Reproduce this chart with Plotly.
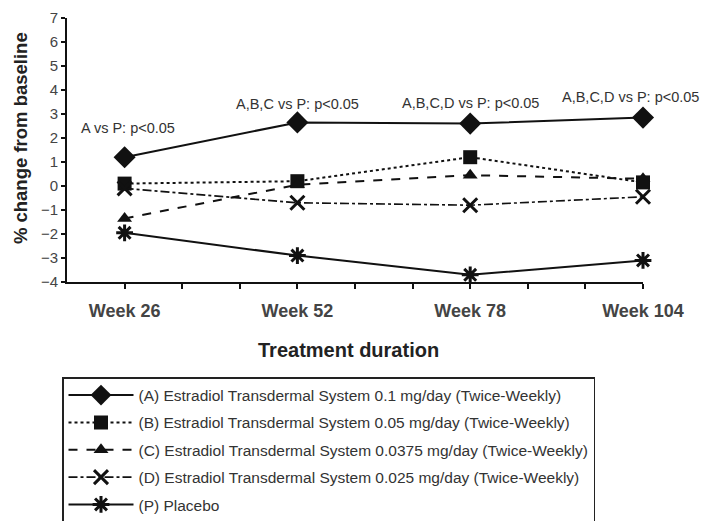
import plotly.graph_objects as go

weeks = [26, 52, 78, 104]
week_labels = ["Week 26", "Week 52", "Week 78", "Week 104"]
series_names = [
    "(A) Estradiol Transdermal System 0.1 mg/day (Twice-Weekly)",
    "(B) Estradiol Transdermal System 0.05 mg/day (Twice-Weekly)",
    "(C) Estradiol Transdermal System 0.0375 mg/day (Twice-Weekly)",
    "(D) Estradiol Transdermal System 0.025 mg/day (Twice-Weekly)",
    "(P) Placebo",
]
vals_A = [1.2, 2.65, 2.6, 2.85]
vals_B = [0.1, 0.2, 1.2, 0.15]
vals_C = [-1.35, 0.05, 0.45, 0.3]
vals_D = [-0.1, -0.7, -0.8, -0.45]
vals_P = [-1.95, -2.9, -3.7, -3.1]
sig_labels = ["A vs P: p<0.05", "A,B,C vs P: p<0.05", "A,B,C,D vs P: p<0.05", "A,B,C,D vs P: p<0.05"]
sig_y = [2.4, 3.4, 3.45, 3.7]
sig_shift = [3, 0, 0, -13]

series_vals = [vals_A, vals_B, vals_C, vals_D, vals_P]
styles = [
    dict(dash="solid", symbol="diamond", size=17, lw=2),
    dict(dash="dot", symbol="square", size=14, lw=2),
    dict(dash="dash", symbol="triangle-up", size=13, lw=2),
    dict(dash="dashdot", symbol="x-thin-open", size=14, lw=1.6),
    dict(dash="solid", symbol="asterisk-open", size=14, lw=2),
]

ARIAL = "Liberation Sans, Arial, sans-serif"
ink = "#111111"

fig = go.Figure()
for i, (name, v, st) in enumerate(zip(series_names, series_vals, styles)):
    marker = dict(symbol=st["symbol"], size=st["size"], color=ink,
                  line=dict(color=ink, width=3 if "open" in st["symbol"] else 0))
    fig.add_trace(go.Scatter(
        x=weeks, y=v, name=name, mode="lines+markers",
        line=dict(color=ink, width=st["lw"], dash=st["dash"]),
        marker=marker, cliponaxis=False, legendgroup=f"g{i}",
    ))

step = 26 / 3
tick_pos = [26 - step + step * k for k in range(1, 10)] + [104]
tick_pos = sorted(set(round(t, 4) for t in tick_pos))
tick_txt = []
for t in tick_pos:
    lab = ""
    for w, l in zip(weeks, week_labels):
        if abs(t - w) < 0.01:
            lab = "<b>" + l + "</b>"
    tick_txt.append(lab)

for xw, txt, yv, sh in zip(weeks, sig_labels, sig_y, sig_shift):
    fig.add_annotation(x=xw, y=yv, text=txt, showarrow=False, xref="x", yref="y", xshift=sh,
                       font=dict(family=ARIAL, size=14.5, color="#333333"))

fig.add_annotation(x=0.488, y=-0.2576, xref="paper", yref="paper", text="<b>Treatment duration</b>",
                   showarrow=False, font=dict(family=ARIAL, size=20, color="#222222"),
                   xanchor="center", yanchor="middle")
fig.add_annotation(x=-0.0816, y=0.545, xref="paper", yref="paper", text="<b>% change from baseline</b>",
                   showarrow=False, textangle=-90, font=dict(family=ARIAL, size=18.5, color="#222222"),
                   xanchor="center", yanchor="middle")

fig.update_layout(
    width=701, height=521,
    margin=dict(l=67, r=58, t=18, b=239),
    plot_bgcolor="white", paper_bgcolor="white",
    showlegend=True,
    legend=dict(x=(62 - 67) / 576, y=1 - 377 / 521, xref="paper", yref="container",
                xanchor="left", yanchor="top",
                bordercolor="#222222", borderwidth=1.5, bgcolor="white",
                font=dict(family=ARIAL, size=15.5, color="#333333"),
                itemwidth=65, traceorder="grouped", tracegroupgap=4.2,
                entrywidth=480, entrywidthmode="pixels"),
    xaxis=dict(range=[26 - step, 104], tickmode="array", tickvals=tick_pos, ticktext=tick_txt,
               showgrid=False, zeroline=False, showline=True, linecolor=ink, linewidth=2,
               ticks="outside", ticklen=5, tickwidth=2, tickcolor=ink,
               ticklabelstandoff=6, automargin=False,
               tickfont=dict(family=ARIAL, size=18, color="#444444")),
    yaxis=dict(range=[-4, 7], dtick=1, showgrid=False, zeroline=False, showline=True,
               linecolor=ink, linewidth=2, ticks="outside", ticklen=4, tickwidth=2, tickcolor=ink,
               automargin=False,
               tickfont=dict(family=ARIAL, size=15, color="#444444")),
)

fig.write_html("out.html", config={"displayModeBar": False},
               post_script="document.body.style.margin='0';document.body.style.overflow='hidden';")
